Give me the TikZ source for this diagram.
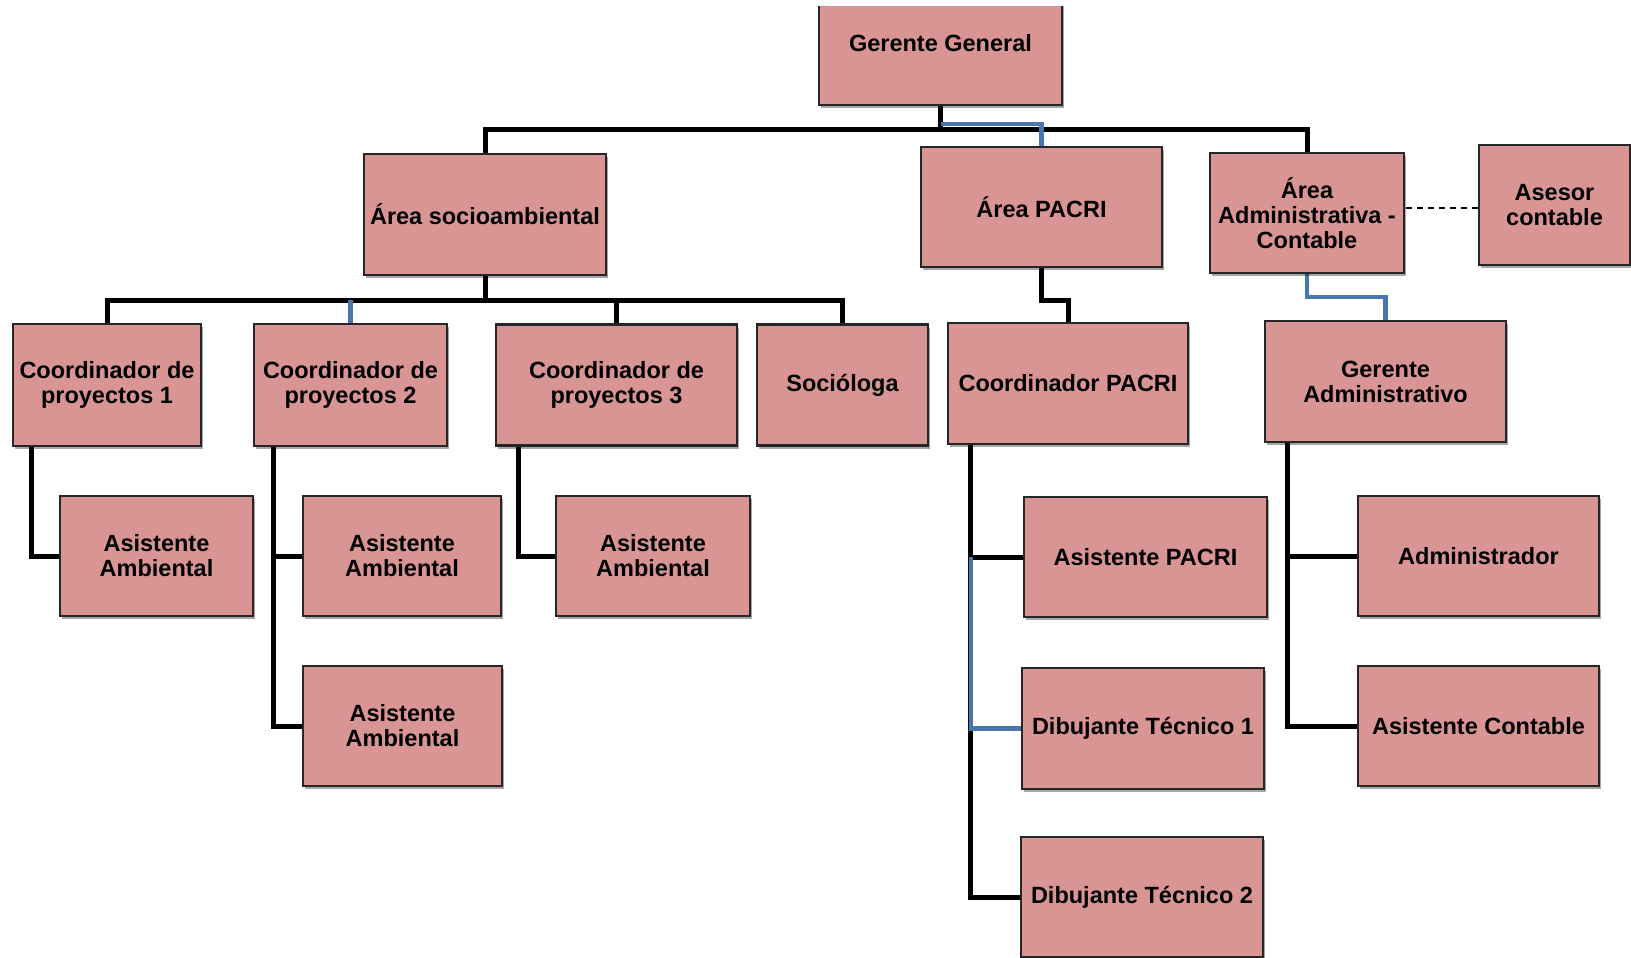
\documentclass[tikz,border=0pt]{standalone}
\usepackage{fontspec}
\setmainfont{Liberation Sans}
\usetikzlibrary{shadows,backgrounds}
\definecolor{boxfill}{RGB}{217,149,148}
\definecolor{boxline}{RGB}{38,38,38}
\definecolor{connblue}{RGB}{74,118,176}
\tikzset{
  box/.style={draw=boxline, line width=2.4pt, fill=boxfill, inner sep=0pt, align=center,
    font=\bfseries\fontsize{23.5}{25}\selectfont,
    drop shadow={shadow xshift=2pt, shadow yshift=-3pt, opacity=0.35, fill=black}},
  conn/.style={line width=5pt, black, line join=miter},
  connb/.style={line width=4.5pt, connblue, line join=miter},
  dashline/.style={line width=1.8pt, black, dash pattern=on 6pt off 5pt}
}
\begin{document}
\begin{tikzpicture}[x=1pt,y=-1pt]
\useasboundingbox (0,0) rectangle (1631,958);
\begin{scope}
\clip (0,7) rectangle (1631,958);
\node[box, minimum width=243, minimum height=124] (gg) at (940.5,43) {Gerente General};
\end{scope}
\node[box, minimum width=242, minimum height=121] (socio) at (485,214.5) {Área socioambiental};
\node[box, minimum width=241, minimum height=120] (pacri) at (1041.5,207) {Área PACRI};
\node[box, minimum width=194, minimum height=120] (admin) at (1307,213) {Área\\Administrativa -\\Contable};
\node[box, minimum width=151, minimum height=120] (asesor) at (1554.5,205) {Asesor\\contable};
\node[box, minimum width=188, minimum height=122] (c1) at (107,385) {Coordinador de\\proyectos 1};
\node[box, minimum width=193, minimum height=122] (c2) at (350.5,385) {Coordinador de\\proyectos 2};
\node[box, minimum width=241, minimum height=121] (c3) at (616.5,385) {Coordinador de\\proyectos 3};
\node[box, minimum width=171, minimum height=121] (soc) at (842.5,385) {Socióloga};
\node[box, minimum width=240, minimum height=121] (cp) at (1068,383.5) {Coordinador PACRI};
\node[box, minimum width=241, minimum height=121] (ga) at (1385.5,381.5) {Gerente\\Administrativo};
\node[box, minimum width=193, minimum height=120] (aa1) at (156.5,556) {Asistente\\Ambiental};
\node[box, minimum width=198, minimum height=120] (aa2) at (402,556) {Asistente\\Ambiental};
\node[box, minimum width=199, minimum height=120] (aa3) at (402.5,726) {Asistente\\Ambiental};
\node[box, minimum width=194, minimum height=120] (aa4) at (653,556) {Asistente\\Ambiental};
\node[box, minimum width=243, minimum height=120] (ap) at (1145.5,557) {Asistente PACRI};
\node[box, minimum width=242, minimum height=121] (d1) at (1143,728.5) {Dibujante Técnico 1};
\node[box, minimum width=242, minimum height=120] (d2) at (1142,897) {Dibujante Técnico 2};
\node[box, minimum width=241, minimum height=120] (adm) at (1478.5,556) {Administrador};
\node[box, minimum width=241, minimum height=120] (ac) at (1478.5,726) {Asistente Contable};
\begin{scope}[on background layer]
\coordinate (bus0) at (0,129);
\coordinate (bus0b) at (0,124);
\coordinate (bus1) at (0,300);
\coordinate (bus3) at (0,297);
\draw[conn] (gg.south) -- (gg.south |- bus0) -| (socio.north);
\draw[conn] (gg.south |- bus0) -| (admin.north);
\draw[connb] (gg.south |- bus0b) -| (pacri.north);
\draw[conn] (socio.south) -- (socio.south |- bus1);
\draw[conn] (c1.north) -- (c1.north |- bus1) -- (soc.north |- bus1) -- (soc.north);
\draw[conn] (c3.north) -- (c3.north |- bus1);
\draw[connb] (c2.north) -- (c2.north |- bus1);
\draw[conn] (pacri.south) -- (pacri.south |- bus1) -| (cp.north);
\draw[connb] (admin.south) -- (admin.south |- bus3) -| (ga.north);
\draw[dashline] ([yshift=-3pt]asesor.west) -- ([yshift=-3pt]asesor.west -| admin.east);
\coordinate (s1) at ([xshift=20pt]c1.south west);
\coordinate (s2) at ([xshift=21pt]c2.south west);
\coordinate (s3) at ([xshift=24pt]c3.south west);
\coordinate (s4) at ([xshift=24pt]cp.south west);
\coordinate (s5) at ([xshift=24pt]ga.south west);
\draw[conn] (s1) |- (aa1.west);
\draw[conn] (s2) |- (aa3.west);
\draw[conn] (aa2.west) -- (aa2.west -| s2);
\draw[conn] (s3) |- (aa4.west);
\draw[conn] (s4) |- (d2.west);
\draw[conn] (ap.west) -- (ap.west -| s4);
\draw[connb] (ap.west -| s4) |- (d1.west);
\draw[conn] (s5) |- (ac.west);
\draw[conn] (adm.west) -- (adm.west -| s5);
\end{scope}
\end{tikzpicture}
\end{document}
